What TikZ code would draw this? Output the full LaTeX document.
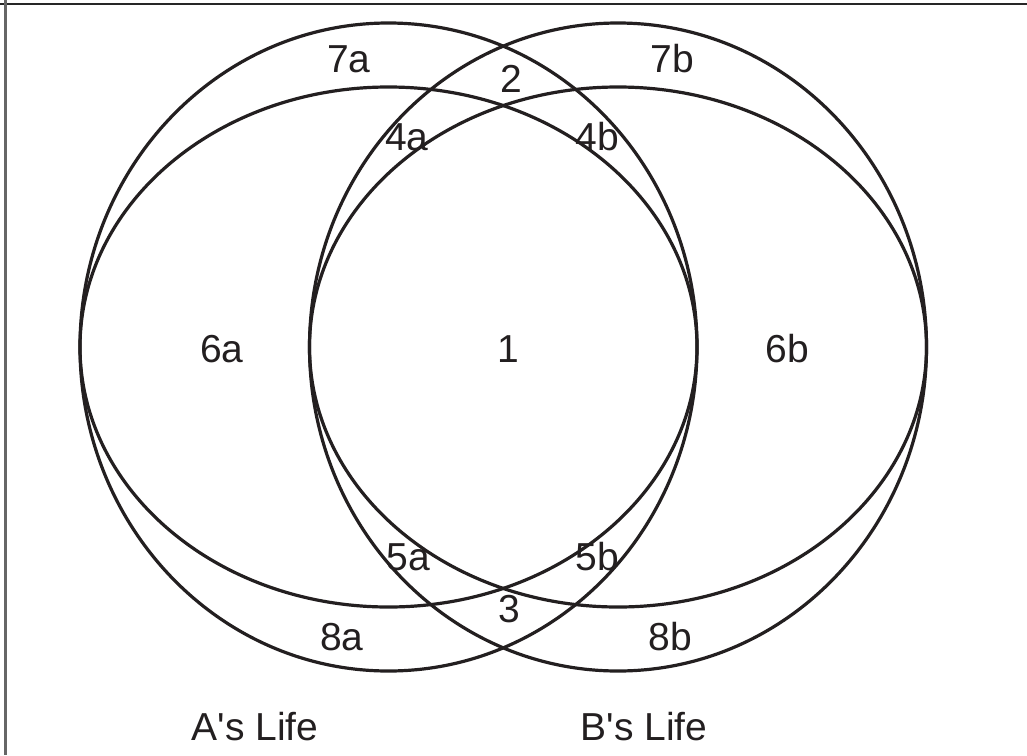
\documentclass[tikz,border=0pt]{standalone}
\usepackage{fontspec}
\setmainfont{Liberation Sans}
\definecolor{ink}{HTML}{231F20}
\begin{document}
\begin{tikzpicture}[x=1pt,y=-1pt,
  shape line/.style={draw=ink, line width=3.2pt},
  lbl/.style={anchor=base, inner sep=0pt, text=ink, font=\fontsize{39}{45}\selectfont}]
\useasboundingbox (0,0) rectangle (1027,755);
\fill[white] (0,0) rectangle (1027,755);
% frame
\draw[line width=2pt, black!85] (0,3.5) -- (1027,3.5);
\draw[line width=2.2pt, black!60] (5.5,0) -- (5.5,755);
% centres
\coordinate (ca) at (388.5,347);
\coordinate (cb) at (618,347);
% outer shapes
\draw[shape line] (ca) ellipse [x radius=308.5pt, y radius=324pt];
\draw[shape line] (cb) ellipse [x radius=308.5pt, y radius=324pt];
% inner shapes
\draw[shape line] (ca) ellipse [x radius=308.5pt, y radius=260pt];
\draw[shape line] (cb) ellipse [x radius=308.5pt, y radius=260pt];
% labels
\node[lbl] (l7a) at (349,72) {7a};
\node[lbl] (l2)  at (511,92) {2};
\node[lbl] (l7b) at (672,72) {7b};
\node[lbl] (l4a) at (407,150) {4a};
\node[lbl] (l4b) at (597,150) {4b};
\node[lbl] (l6a) at (222,362) {6a};
\node[lbl] (l1)  at (508,362) {1};
\node[lbl] (l6b) at (787,362) {6b};
\node[lbl] (l5a) at (408,570) {5a};
\node[lbl] (l5b) at (597,570) {5b};
\node[lbl] (l3)  at (509,622) {3};
\node[lbl] (l8a) at (342,650) {8a};
\node[lbl] (l8b) at (670,650) {8b};
\node[lbl] (la)  at (255,740) {A\textquotesingle s Life};
\node[lbl] (lb)  at (644,740) {B\textquotesingle s Life};
\end{tikzpicture}
\end{document}
